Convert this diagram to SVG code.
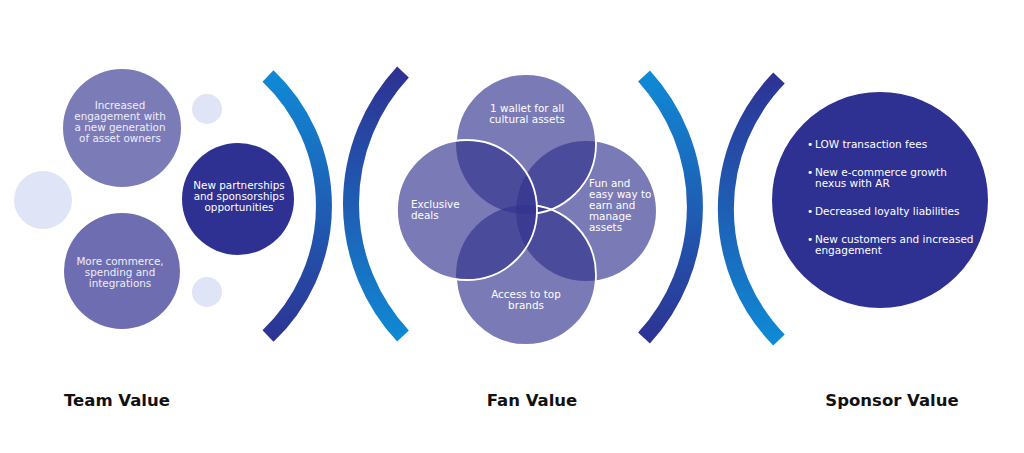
<svg xmlns="http://www.w3.org/2000/svg" width="1024" height="453" viewBox="0 0 1024 453">
  <style>
    .t { font-family: "DejaVu Sans", "Liberation Sans", sans-serif; font-size: 10.4px; fill: #ffffff; }
    .tl { fill: #eeeef8; }
    .c { text-anchor: middle; }
    .s { font-family: "DejaVu Sans", "Liberation Sans", sans-serif; font-size: 10.5px; fill: #ffffff; }
    .lab { font-family: "DejaVu Sans", "Liberation Sans", sans-serif; font-size: 16.5px; font-weight: bold; fill: #111111; text-anchor: middle; }
    .dot { fill: #dfe4f7; }
    .venn { fill: #32338f; fill-opacity: 0.65; }
    .arc { fill: none; stroke-width: 16; stroke-linecap: butt; }
    .ol { fill: none; stroke: #ffffff; stroke-width: 1.8; }
  </style>
  <defs>
    <linearGradient id="gDown" gradientUnits="userSpaceOnUse" x1="0" y1="70" x2="0" y2="345">
      <stop offset="0" stop-color="#0f8bd6"/>
      <stop offset="1" stop-color="#2e3192"/>
    </linearGradient>
    <linearGradient id="gUp" gradientUnits="userSpaceOnUse" x1="0" y1="70" x2="0" y2="345">
      <stop offset="0" stop-color="#2e3192"/>
      <stop offset="1" stop-color="#0f8bd6"/>
    </linearGradient>
    <mask id="outsideLeft" maskUnits="userSpaceOnUse" x="0" y="0" width="1024" height="453">
      <rect x="0" y="0" width="1024" height="453" fill="#ffffff"/>
      <circle cx="467" cy="210" r="70" fill="#000000"/>
    </mask>
  </defs>

  <!-- Team value -->
  <g id="team-dot-large"><circle class="dot" cx="43" cy="200" r="29"/></g>
  <g id="team-dot-top"><circle class="dot" cx="207" cy="109" r="15"/></g>
  <g id="team-dot-bottom"><circle class="dot" cx="207" cy="292" r="15"/></g>
  <g id="team-engagement">
    <circle cx="122" cy="128" r="59" fill="#7b7bb8"/>
    <text class="t tl c" x="120" y="109">Increased</text>
    <text class="t tl c" x="120" y="120">engagement with</text>
    <text class="t tl c" x="120" y="131">a new generation</text>
    <text class="t tl c" x="120" y="142">of asset owners</text>
  </g>
  <g id="team-commerce">
    <circle cx="122" cy="271" r="58" fill="#6e6db1"/>
    <text class="t tl c" x="120" y="265">More commerce,</text>
    <text class="t tl c" x="120" y="276">spending and</text>
    <text class="t tl c" x="120" y="287">integrations</text>
  </g>
  <g id="team-partnerships">
    <circle cx="238" cy="199" r="56" fill="#2e3192"/>
    <text class="t c" x="239" y="189">New partnerships</text>
    <text class="t c" x="239" y="200">and sponsorships</text>
    <text class="t c" x="239" y="211">opportunities</text>
  </g>

  <!-- Dividers -->
  <g id="dividers">
    <path class="arc" stroke="url(#gDown)" d="M 268 76 A 179 179 0 0 1 268 336"/>
    <path class="arc" stroke="url(#gUp)" d="M 403 72 A 193.5 193.5 0 0 0 403 336"/>
    <path class="arc" stroke="url(#gDown)" d="M 644 76 A 194 194 0 0 1 644 338"/>
    <path class="arc" stroke="url(#gUp)" d="M 779 78 A 188 188 0 0 0 779 340"/>
  </g>

  <!-- Fan value venn -->
  <g id="fan-fun">
    <circle class="venn" cx="586" cy="211" r="70"/>
    <text class="t" x="589" y="187">Fun and</text>
    <text class="t" x="589" y="198">easy way to</text>
    <text class="t" x="589" y="209">earn and</text>
    <text class="t" x="589" y="220">manage</text>
    <text class="t" x="589" y="231">assets</text>
  </g>
  <g id="fan-wallet">
    <circle class="venn" cx="526" cy="144" r="70"/>
    <text class="t c" x="527" y="112">1 wallet for all</text>
    <text class="t c" x="527" y="123">cultural assets</text>
  </g>
  <g id="fan-access">
    <circle class="venn" cx="526" cy="275" r="70"/>
    <text class="t c" x="526" y="298">Access to top</text>
    <text class="t c" x="526" y="309">brands</text>
  </g>
  <g id="fan-exclusive">
    <circle class="venn" cx="467" cy="210" r="70"/>
    <text class="t" x="411" y="208">Exclusive</text>
    <text class="t" x="411" y="219">deals</text>
  </g>
  <g id="fan-outlines">
    <g mask="url(#outsideLeft)">
      <circle class="ol" cx="526" cy="144" r="70"/>
      <circle class="ol" cx="526" cy="275" r="70"/>
    </g>
    <circle class="ol" cx="467" cy="210" r="70"/>
  </g>

  <!-- Sponsor value -->
  <g id="sponsor">
    <circle cx="880" cy="200" r="108" fill="#2e3192"/>
    <text class="s" x="807" y="148" font-size="8">•</text>
    <text class="s" x="815" y="148">LOW transaction fees</text>
    <text class="s" x="807" y="176" font-size="8">•</text>
    <text class="s" x="815" y="176">New e-commerce growth</text>
    <text class="s" x="815" y="187">nexus with AR</text>
    <text class="s" x="807" y="215" font-size="8">•</text>
    <text class="s" x="815" y="215">Decreased loyalty liabilities</text>
    <text class="s" x="807" y="243" font-size="8">•</text>
    <text class="s" x="815" y="243">New customers and increased</text>
    <text class="s" x="815" y="254">engagement</text>
  </g>

  <!-- Labels -->
  <g id="labels">
    <text class="lab" x="117" y="406">Team Value</text>
    <text class="lab" x="532" y="406">Fan Value</text>
    <text class="lab" x="892" y="406">Sponsor Value</text>
  </g>
</svg>
